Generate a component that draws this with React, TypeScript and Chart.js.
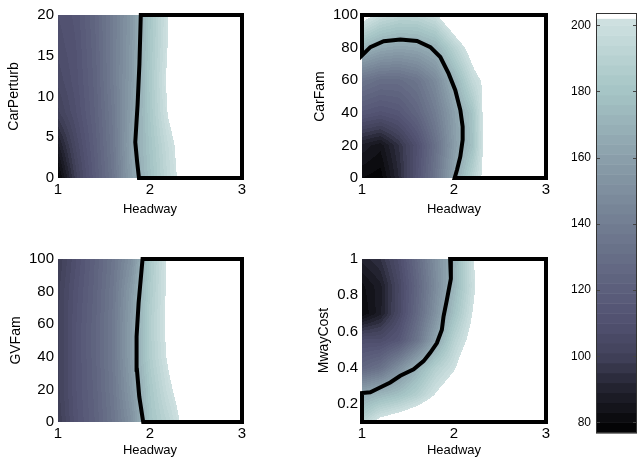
import React, { useEffect, useRef } from 'react';
import { Chart, registerables } from 'chart.js';
Chart.register(...registerables);

// ---------- data ----------
const headwayNodes = [1, 1.2, 1.4, 1.6, 1.8, 2.0, 2.2, 2.4, 2.6, 2.8, 3.0];
const headwayTicks = [1, 2, 3];

const carPerturbNodes = [0, 4, 8, 12, 16, 20];
const carPerturbTicks = [0, 5, 10, 15, 20];
const costCarPerturb = [
  [78, 100, 118, 135, 160, 178, 195, 210, 225, 235, 245],
  [88, 105, 120, 137, 162, 180, 197, 212, 226, 236, 246],
  [100, 110, 122, 138, 160, 182, 203, 216, 228, 238, 248],
  [105, 112, 123, 140, 158, 183, 205, 218, 230, 240, 250],
  [108, 113, 124, 140, 157, 182, 203, 218, 230, 240, 250],
  [110, 114, 125, 140, 156, 181, 202.5, 218, 230, 240, 250],
];
const outlineCarPerturb = [
  [2.5, 20], [3, 20], [3, 0], [1.88, 0], [1.86, 2], [1.84, 4.4], [1.865, 9], [1.885, 14], [1.9, 20], [2.5, 20],
];

const carFamNodes = [0, 20, 40, 60, 80, 100];
const carFamTicks = [0, 20, 40, 60, 80, 100];
const costCarFam = [
  [80, 78, 92, 112, 135, 163, 190, 215, 230, 240, 250],
  [88, 84, 95, 110, 132, 158, 178, 220, 232, 242, 250],
  [115, 112, 115, 125, 140, 160, 180, 220, 232, 242, 250],
  [135, 130, 130, 135, 148, 170, 195, 210, 230, 245, 250],
  [172, 165, 162, 164, 170, 190, 210, 235, 245, 250, 250],
  [210, 198, 193, 193, 200, 220, 240, 250, 250, 250, 250],
];
const outlineCarFam = [
  [2.5, 100], [1, 100], [1, 75.2], [1.091, 80.3], [1.236, 83.9], [1.417, 85], [1.598, 84.1], [1.743, 80.3],
  [1.851, 74.2], [1.942, 64], [2.014, 53.9], [2.069, 41.7], [2.094, 31.5], [2.094, 23.4], [2.069, 13.2],
  [2.033, 5.1], [2.007, 0], [3, 0], [3, 100], [2.5, 100],
];

const gvFamNodes = [0, 20, 40, 60, 80, 100];
const gvFamTicks = [0, 20, 40, 60, 80, 100];
const costGVFam = [
  [98, 112, 122, 135, 152, 180, 192, 208, 225, 235, 245],
  [100, 113, 123, 137, 157, 182, 199, 212, 228, 238, 248],
  [100, 113, 124, 138, 160, 186, 204, 218, 230, 240, 250],
  [100, 113, 124, 138, 160, 187, 206, 220, 232, 242, 250],
  [100, 112, 123, 137, 158, 185, 205, 220, 232, 242, 250],
  [98, 110, 122, 135, 152, 183, 205, 220, 232, 242, 250],
];
const outlineGVFam = [
  [2.5, 100], [3, 100], [3, 0], [1.926, 0], [1.883, 15.7], [1.858, 32], [1.854, 52.4], [1.876, 72.9], [1.919, 100], [2.5, 100],
];

const mwayCostNodes = [0.1, 0.25, 0.4, 0.55, 0.7, 0.85, 1.0];
const mwayCostTicks = [0.2, 0.4, 0.6, 0.8, 1];
const costMwayCost = [
  [190, 208, 215, 222, 230, 238, 245, 250, 250, 250, 250],
  [166, 172, 178, 188, 203, 215, 230, 240, 250, 250, 250],
  [125, 132, 150, 170, 188, 200, 220, 235, 245, 250, 250],
  [108, 108, 115, 135, 163, 190, 208, 225, 240, 250, 250],
  [80, 88, 105, 127, 152, 178, 202, 225, 240, 250, 250],
  [82, 88, 104, 125, 148, 172, 198, 222, 240, 250, 250],
  [90, 95, 108, 128, 150, 170, 200, 225, 240, 250, 250],
];
const outlineMwayCost = [
  [2.5, 1], [1.958, 1], [1.966, 0.891], [1.922, 0.773], [1.886, 0.682], [1.868, 0.609], [1.814, 0.536],
  [1.741, 0.482], [1.669, 0.436], [1.561, 0.391], [1.416, 0.355], [1.307, 0.318], [1.163, 0.282],
  [1.09, 0.264], [1, 0.26], [1, 0.1], [3, 0.1], [3, 1], [2.5, 1],
];

const colorbarTicks = [80, 100, 120, 140, 160, 180, 200];
const colorbarMin = 76.8;
const colorbarMax = 203.7;

// ---------- colour ----------
const LEVEL_BASE = 77;
const LEVEL_STEP = 3;
const LEVEL_TOP = 202;
// value -> position in the bone colour map
const cmapValues = [76.8, 90, 100, 110, 120, 140, 160, 180, 202];
const cmapPositions = [0, 0.15, 0.29, 0.36, 0.41, 0.51, 0.62, 0.74, 0.867];

function bone(t: number): [number, number, number] {
  t = Math.max(0, Math.min(1, t));
  const r = t < 0.75 ? (7 * t) / 8 : (7 * t + (t - 0.75) * 4) / 8;
  const g = t < 0.375 ? (7 * t) / 8 : t < 0.75 ? (7 * t + (t - 0.375) / 0.375) / 8 : (7 * t + 1) / 8;
  const b = t < 0.375 ? (7 * t + t / 0.375) / 8 : (7 * t + 1) / 8;
  return [Math.round(r * 255), Math.round(g * 255), Math.round(b * 255)];
}
function toT(v: number) {
  if (v <= cmapValues[0]) return 0;
  for (let i = 0; i < cmapValues.length - 1; i++) {
    if (v <= cmapValues[i + 1]) {
      const f = (v - cmapValues[i]) / (cmapValues[i + 1] - cmapValues[i]);
      return cmapPositions[i] + f * (cmapPositions[i + 1] - cmapPositions[i]);
    }
  }
  return cmapPositions[cmapPositions.length - 1];
}
function bandColor(v: number): [number, number, number] {
  const k = Math.floor((v - LEVEL_BASE) / LEVEL_STEP);
  const mid = Math.min(LEVEL_BASE + k * LEVEL_STEP + LEVEL_STEP / 2, LEVEL_TOP - 1);
  return bone(toT(mid));
}

function locate(nodes: number[], v: number): [number, number] {
  const n = nodes.length;
  if (v <= nodes[0]) return [0, 0];
  if (v >= nodes[n - 1]) return [n - 2, 1];
  let i = 0;
  while (i < n - 2 && v > nodes[i + 1]) i++;
  return [i, (v - nodes[i]) / (nodes[i + 1] - nodes[i])];
}
function sample(xs: number[], ys: number[], z: number[][], x: number, y: number) {
  const [i, fx] = locate(xs, x);
  const [j, fy] = locate(ys, y);
  const a = z[j][i], b = z[j][i + 1], c = z[j + 1][i], d = z[j + 1][i + 1];
  return (a * (1 - fx) + b * fx) * (1 - fy) + (c * (1 - fx) + d * fx) * fy;
}

function fieldPlugin(xs: number[], ys: number[], z: number[][]) {
  return {
    id: 'field',
    beforeDatasetsDraw(chart: any) {
      const { ctx, chartArea: a, scales } = chart;
      const x0 = Math.round(a.left), y0 = Math.round(a.top);
      const w = Math.round(a.right) - x0, h = Math.round(a.bottom) - y0;
      const off = document.createElement('canvas');
      off.width = w;
      off.height = h;
      const octx = off.getContext('2d')!;
      const img = octx.createImageData(w, h);
      for (let j = 0; j < h; j++) {
        const yv = scales.y.getValueForPixel(y0 + j + 0.5);
        for (let i = 0; i < w; i++) {
          const xv = scales.x.getValueForPixel(x0 + i + 0.5);
          const v = sample(xs, ys, z, xv, yv);
          if (v > LEVEL_TOP) continue;
          const [r, g, b] = bandColor(v);
          const p = (j * w + i) * 4;
          img.data[p] = r;
          img.data[p + 1] = g;
          img.data[p + 2] = b;
          img.data[p + 3] = 255;
        }
      }
      octx.putImageData(img, 0, 0);
      ctx.drawImage(off, x0, y0);
    },
  };
}

const colorbarPlugin = {
  id: 'colorbar',
  beforeDatasetsDraw(chart: any) {
    const { ctx, chartArea: a, scales } = chart;
    const y = scales.y;
    ctx.save();
    const bands: number[] = [colorbarMin];
    for (let lv = LEVEL_BASE; lv < LEVEL_TOP; lv += LEVEL_STEP) bands.push(lv);
    bands.push(LEVEL_TOP);
    for (let k = 0; k < bands.length - 1; k++) {
      const lo = bands[k], hi = bands[k + 1];
      const [r, g, b] = bandColor(lo + 0.01);
      const top = y.getPixelForValue(hi), bot = y.getPixelForValue(lo);
      ctx.fillStyle = `rgb(${r},${g},${b})`;
      ctx.fillRect(a.left, top, a.right - a.left, bot - top + 0.5);
    }
    ctx.fillStyle = '#fff';
    const tTop = y.getPixelForValue(colorbarMax), tBot = y.getPixelForValue(LEVEL_TOP);
    ctx.fillRect(a.left, tTop, a.right - a.left, tBot - tTop);
    ctx.strokeStyle = '#444';
    ctx.lineWidth = 1;
    for (const t of colorbarTicks) {
      const py = Math.round(y.getPixelForValue(t)) + 0.5;
      ctx.beginPath();
      ctx.moveTo(a.left, py);
      ctx.lineTo(a.left + 4, py);
      ctx.moveTo(a.right - 4, py);
      ctx.lineTo(a.right, py);
      ctx.stroke();
    }
    ctx.strokeStyle = '#333';
    ctx.strokeRect(Math.round(a.left) + 0.5, Math.round(a.top) + 0.5, Math.round(a.right - a.left) - 1, Math.round(a.bottom - a.top) - 1);
    ctx.restore();
  },
};

// ---------- layout ----------
const FAMILY = '"Liberation Sans", Arial, Helvetica, sans-serif';
const TICK_FONT = { family: FAMILY, size: 15 };
const XTITLE_FONT = { family: FAMILY, size: 13 };
const YTITLE_FONT = { family: FAMILY, size: 14 };
const CB_FONT = { family: FAMILY, size: 12 };

type Panel = {
  left: number; top: number; width: number; height: number;
  area: { l: number; t: number; r: number; b: number };
  yNodes: number[]; z: number[][]; yMin: number; yMax: number; yTicks: number[];
  yTitle: string; yTitlePad: number; xTitlePad: number; outline: number[][];
};

const panels: Panel[] = [
  {
    left: 0, top: 0, width: 300, height: 222, area: { l: 58, t: 15, r: 242, b: 178 },
    yNodes: carPerturbNodes, z: costCarPerturb, yMin: 0, yMax: 20, yTicks: carPerturbTicks,
    yTitle: 'CarPerturb', yTitlePad: 6, xTitlePad: 5, outline: outlineCarPerturb,
  },
  {
    left: 300, top: 0, width: 260, height: 222, area: { l: 362, t: 15, r: 546, b: 178 },
    yNodes: carFamNodes, z: costCarFam, yMin: 0, yMax: 100, yTicks: carFamTicks,
    yTitle: 'CarFam', yTitlePad: 12, xTitlePad: 5, outline: outlineCarFam,
  },
  {
    left: 0, top: 236, width: 300, height: 223, area: { l: 58, t: 259, r: 242, b: 422 },
    yNodes: gvFamNodes, z: costGVFam, yMin: 0, yMax: 100, yTicks: gvFamTicks,
    yTitle: 'GVFam', yTitlePad: 8, xTitlePad: 1, outline: outlineGVFam,
  },
  {
    left: 300, top: 236, width: 260, height: 223, area: { l: 362, t: 259, r: 546, b: 422 },
    yNodes: mwayCostNodes, z: costMwayCost, yMin: 0.1, yMax: 1, yTicks: mwayCostTicks,
    yTitle: 'MwayCost', yTitlePad: 16, xTitlePad: 1, outline: outlineMwayCost,
  },
];

const cbBox = { left: 560, top: 0, width: 82, height: 459, area: { l: 596, t: 13, r: 637, b: 433 } };

function PanelChart({ p }: { p: Panel }) {
  const ref = useRef<HTMLCanvasElement>(null);
  useEffect(() => {
    const chart = new Chart(ref.current!, {
      type: 'scatter',
      data: {
        datasets: [
          {
            data: p.outline.map(([x, y]) => ({ x, y })),
            showLine: true,
            borderColor: '#000',
            borderWidth: 4,
            pointRadius: 0,
            pointHoverRadius: 0,
            fill: false,
            tension: 0,
            borderJoinStyle: 'miter',
            clip: false,
          } as any,
        ],
      },
      options: {
        responsive: false,
        animation: false,
        events: [],
        layout: { padding: { left: 0, top: p.area.t - p.top, right: p.left + p.width - p.area.r, bottom: 0 } },
        plugins: { legend: { display: false }, tooltip: { enabled: false } },
        scales: {
          x: {
            type: 'linear', min: 1, max: 3,
            grid: { display: false, drawTicks: false }, border: { display: false },
            ticks: { font: TICK_FONT, color: '#000', padding: 3, maxRotation: 0, callback: (v: any) => String(v) },
            afterBuildTicks: (s: any) => { s.ticks = headwayTicks.map((v) => ({ value: v })); },
            afterFit: (s: any) => { s.height = p.top + p.height - p.area.b; },
            title: { display: true, text: 'Headway', font: XTITLE_FONT, color: '#000', padding: { top: 0, bottom: p.xTitlePad } },
          },
          y: {
            type: 'linear', min: p.yMin, max: p.yMax,
            grid: { display: false, drawTicks: false }, border: { display: false },
            ticks: { font: TICK_FONT, color: '#000', padding: 4, callback: (v: any) => String(v) },
            afterBuildTicks: (s: any) => { s.ticks = p.yTicks.map((v) => ({ value: v })); },
            afterFit: (s: any) => { s.width = p.area.l - p.left; },
            title: { display: true, text: p.yTitle, font: YTITLE_FONT, color: '#000', padding: { top: p.yTitlePad, bottom: 0 } },
          },
        },
      } as any,
      plugins: [fieldPlugin(headwayNodes, p.yNodes, p.z)],
    });
    return () => chart.destroy();
  }, [p]);
  return (
    <canvas
      ref={ref}
      width={p.width}
      height={p.height}
      style={{ position: 'absolute', left: p.left, top: p.top, width: p.width, height: p.height }}
    />
  );
}

function ColorbarChart() {
  const ref = useRef<HTMLCanvasElement>(null);
  useEffect(() => {
    const b = cbBox;
    const chart = new Chart(ref.current!, {
      type: 'scatter',
      data: { datasets: [{ data: [] }] },
      options: {
        responsive: false,
        animation: false,
        events: [],
        layout: { padding: { left: 0, top: b.area.t - b.top, right: b.left + b.width - b.area.r, bottom: b.top + b.height - b.area.b } },
        plugins: { legend: { display: false }, tooltip: { enabled: false } },
        scales: {
          x: { type: 'linear', min: 0, max: 1, display: false },
          y: {
            type: 'linear', min: colorbarMin, max: colorbarMax,
            grid: { display: false, drawTicks: false }, border: { display: false },
            ticks: { font: CB_FONT, color: '#000', padding: 5, callback: (v: any) => String(v) },
            afterBuildTicks: (s: any) => { s.ticks = colorbarTicks.map((v) => ({ value: v })); },
            afterFit: (s: any) => { s.width = b.area.l - b.left; },
          },
        },
      } as any,
      plugins: [colorbarPlugin],
    });
    return () => chart.destroy();
  }, []);
  return (
    <canvas
      ref={ref}
      width={cbBox.width}
      height={cbBox.height}
      style={{ position: 'absolute', left: cbBox.left, top: cbBox.top, width: cbBox.width, height: cbBox.height }}
    />
  );
}

export default function App() {
  return (
    <div style={{ position: 'absolute', left: 0, top: 0, width: 642, height: 459, background: '#fff', overflow: 'hidden' }}>
      {panels.map((p, i) => (
        <PanelChart key={i} p={p} />
      ))}
      <ColorbarChart />
    </div>
  );
}
